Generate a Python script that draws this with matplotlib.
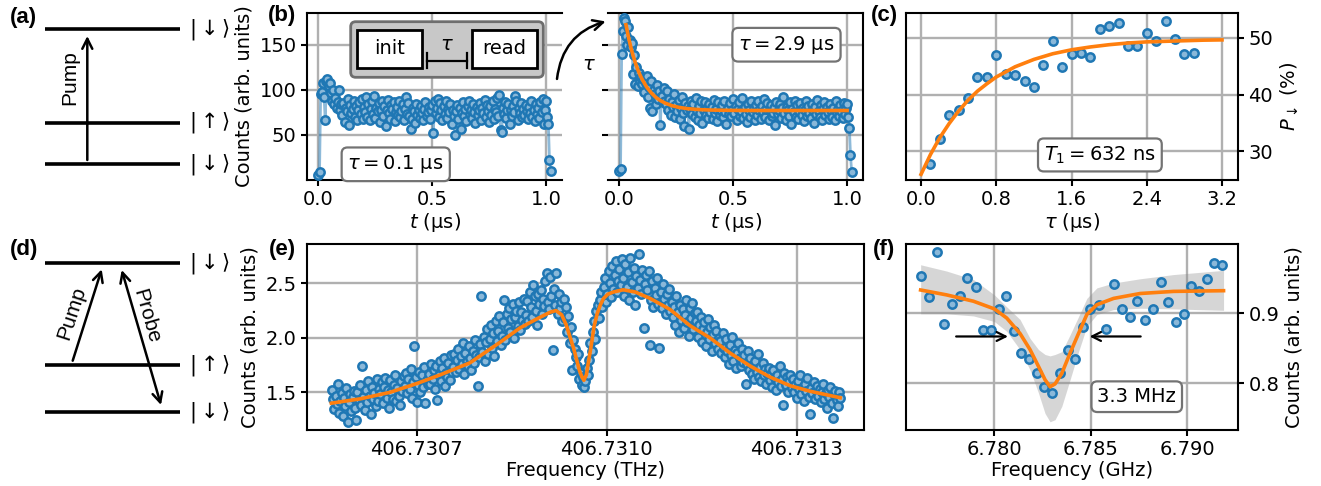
import numpy as np
import matplotlib
matplotlib.use("Agg")
import matplotlib.pyplot as plt
from matplotlib.patches import FancyBboxPatch, FancyArrowPatch, Rectangle
from matplotlib.ticker import FormatStrFormatter

FS = 14
plt.rcParams.update({
    "font.family": ["DejaVu Sans"],
    "font.size": FS,
    "axes.linewidth": 1.5,
    "xtick.major.width": 1.5, "ytick.major.width": 1.5,
    "xtick.major.size": 4, "ytick.major.size": 4,
    "xtick.labelsize": FS, "ytick.labelsize": FS,
    "axes.labelsize": FS,
})

# ---------------- data ----------------
b_step_us = 0.005
b1_counts = [5, 9, 95, 98, 107, 92, 67, 110, 112, 104, 108, 96, 88, 100, 84, 91, 80, 86, 100, 78, 84,
             72, 85, 64, 80, 76, 90, 61, 83, 74, 79, 88, 70, 82, 67, 77, 86, 73, 90, 68, 81,
             75, 92, 70, 84, 66, 79, 88, 73, 93, 69, 80, 76, 85, 64, 78, 87, 71, 82, 60, 77,
             89, 74, 68, 83, 79, 86, 65, 75, 81, 72, 88, 70, 76, 84, 66, 79, 92, 73, 85, 71,
             57, 68, 80, 76, 63, 84, 72, 78, 69, 82, 74, 66, 79, 86, 71, 75, 81, 68, 77, 83,
             52, 88, 74, 80, 90, 70, 85, 77, 66, 82, 73, 87, 69, 79, 75, 84, 62, 78, 71, 50,
             76, 83, 68, 80, 57, 74, 86, 71, 79, 65, 82, 88, 73, 77, 69, 84, 75, 63, 81, 72,
             78, 85, 67, 80, 74, 89, 70, 83, 76, 64, 82, 72, 87, 68, 79, 75, 91, 71, 94, 55,
             53, 80, 73, 86, 69, 77, 84, 62, 78, 71, 82, 75, 93, 88, 67, 80, 74, 85, 70, 79,
             72, 83, 76, 68, 81, 74, 87, 70, 78, 65, 84, 73, 80, 69, 86, 75, 90, 62, 77,
             88, 70, 62, 22, 10]
b2_counts = [10, 12, 140, 165, 180, 176, 160, 150, 170, 155, 147, 152, 117, 138, 106, 125, 104, 118, 110, 114, 106,
             112, 98, 108, 115, 92, 103, 80, 110, 76, 100, 95, 84, 105, 90, 99, 61, 93, 86, 102, 88,
             84, 99, 78, 90, 72, 86, 81, 95, 70, 83, 76, 89, 68, 80, 92, 74, 60, 85, 77, 82,
             57, 79, 88, 73, 84, 70, 91, 76, 66, 82, 74, 87, 63, 78, 86, 72, 80, 69, 84, 75,
             81, 68, 89, 74, 79, 65, 86, 72, 77, 83, 70, 88, 75, 62, 80, 73, 85, 71, 78, 90,
             74, 82, 67, 79, 86, 71, 76, 91, 69, 81, 73, 64, 84, 77, 70, 88, 75, 80, 66, 83,
             72, 87, 78, 68, 82, 75, 90, 70, 79, 85, 66, 77, 83, 71, 74, 80, 61, 86, 73, 78,
             84, 69, 80, 92, 74, 66, 81, 77, 71, 86, 62, 79, 75, 88, 70, 83, 68, 76, 85, 72,
             80, 65, 78, 87, 71, 82, 74, 69, 84, 77, 63, 81, 73, 89, 76, 70, 83, 67, 79, 86,
             72, 81, 75, 68, 84, 77, 70, 80, 66, 87, 74, 79, 71, 83, 76, 69, 85, 73, 80,
             84, 70, 58, 28, 9]
b2_fit_t = [0.029, 0.04, 0.05, 0.06, 0.07, 0.08, 0.09, 0.10, 0.12, 0.14, 0.16, 0.18, 0.20,
            0.23, 0.26, 0.30, 0.35, 0.40, 0.50, 0.60, 0.70, 0.80, 0.90, 1.00]
b2_fit_counts = [172.0, 158.2, 147.4, 138.0, 129.9, 122.8, 116.7, 111.5, 102.9, 96.5, 91.6, 88.0, 85.3,
                 82.4, 80.5, 79.0, 78.0, 77.5, 77.1, 77.0, 77.0, 77.0, 77.0, 77.0]

c_tau = [0.10, 0.20, 0.30, 0.40, 0.50, 0.60, 0.70, 0.80, 0.90, 1.00, 1.10, 1.20, 1.30, 1.40, 1.50,
         1.60, 1.70, 1.80, 1.90, 2.00, 2.10, 2.20, 2.30, 2.40, 2.50, 2.60, 2.70, 2.80, 2.90]
c_p = [27.8, 32.1, 36.3, 37.2, 39.4, 43.1, 43.1, 46.9, 43.7, 43.5, 42.4, 41.4, 45.2, 49.4, 44.8,
       47.1, 47.4, 46.6, 51.5, 52.1, 52.6, 48.5, 48.5, 50.9, 49.5, 53.0, 49.8, 47.1, 47.4]
c_fit_tau = [0.0, 0.1, 0.2, 0.3, 0.4, 0.5, 0.6, 0.7, 0.8, 0.9, 1.0, 1.2, 1.4, 1.6, 1.8, 2.0,
             2.2, 2.4, 2.6, 2.8, 3.0, 3.2]
c_fit_p = [25.9, 29.4, 32.4, 34.9, 37.1, 39.0, 40.6, 41.9, 43.1, 44.0, 44.9, 46.2, 47.2, 47.9,
           48.4, 48.8, 49.1, 49.3, 49.4, 49.5, 49.6, 49.65]

e_freq_start, e_freq_stop = 406.730566, 406.731369
e_counts = [1.52, 1.44, 1.35, 1.47, 1.39, 1.58, 1.31, 1.42, 1.49, 1.28, 1.45, 1.37, 1.54, 1.23, 1.41, 1.48, 1.33, 1.46, 1.51, 1.36,
            1.25, 1.50, 1.43, 1.57, 1.38, 1.74, 1.46, 1.34, 1.52, 1.41, 1.60, 1.47, 1.30, 1.55, 1.44, 1.49, 1.37, 1.62, 1.42, 1.53,
            1.48, 1.59, 1.40, 1.55, 1.63, 1.45, 1.52, 1.36, 1.61, 1.50, 1.44, 1.57, 1.66, 1.42, 1.54, 1.47, 1.38, 1.60, 1.51, 1.65,
            1.56, 1.68, 1.49, 1.62, 1.53, 1.71, 1.45, 1.59, 1.92, 1.64, 1.41, 1.57, 1.69, 1.50, 1.66, 1.55, 1.73, 1.40, 1.61, 1.58,
            1.67, 1.58, 1.76, 1.62, 1.70, 1.53, 1.74, 1.43, 1.66, 1.79, 1.60, 1.72, 1.81, 1.56, 1.68, 1.64, 1.77, 1.61, 1.84, 1.69,
            1.73, 1.85, 1.69, 1.80, 1.90, 1.71, 1.83, 1.76, 1.95, 1.67, 1.86, 1.79, 1.74, 1.92, 1.81, 1.70, 1.88, 1.77, 1.98, 1.84,
            1.56, 1.82, 1.94, 2.38, 1.87, 2.01, 1.79, 1.96, 2.08, 1.85, 1.99, 2.12, 1.91, 2.04, 1.83, 2.15, 1.97, 2.06, 2.20, 1.93,
            2.02, 2.14, 2.35, 1.98, 2.22, 2.09, 2.27, 2.05, 2.17, 2.31, 2.00, 2.19, 2.25, 2.11, 2.33, 2.07, 2.24, 2.16, 2.36, 2.13,
            2.21, 2.34, 2.15, 2.42, 2.28, 2.19, 2.48, 2.38, 2.25, 2.12, 2.40, 2.31, 2.44, 2.22, 2.36, 2.29, 2.52, 2.59, 2.33, 2.26,
            2.56, 2.38, 1.89, 2.45, 2.30, 2.59, 2.22, 2.40, 2.27, 2.33, 2.15, 2.36, 2.18, 2.28, 2.05, 2.20, 1.95, 2.10, 1.70, 1.98,
            1.90, 1.82, 1.74, 1.85, 1.62, 1.68, 1.57, 1.64, 1.55, 1.60, 1.72, 1.66, 1.80, 1.95, 1.88, 2.05, 2.15, 1.99, 2.25, 2.30,
            2.18, 2.35, 2.42, 2.28, 2.47, 2.55, 2.33, 2.40, 2.61, 2.50, 2.37, 2.66, 2.45, 2.58, 2.70, 2.42, 2.52, 2.63, 2.48, 2.72,
            2.55, 2.38, 2.68, 2.47, 2.60, 2.35, 2.73, 2.51, 2.42, 2.64, 2.30, 2.57, 2.46, 2.77, 2.53, 2.40, 2.62, 2.09, 2.49, 2.58,
            2.44, 2.61, 1.93, 2.35, 2.52, 2.28, 2.46, 2.39, 2.55, 2.31, 1.91, 2.42, 2.27, 2.49, 2.36, 2.22, 2.40, 2.30, 2.45, 2.25,
            2.33, 2.19, 2.28, 2.12, 2.38, 2.24, 2.05, 2.30, 2.16, 2.26, 2.09, 2.21, 2.35, 2.14, 2.02, 2.27, 2.18, 2.32, 2.08, 2.23,
            2.15, 2.24, 2.01, 2.12, 2.19, 1.96, 2.08, 2.14, 1.92, 2.05, 2.17, 1.99, 2.10, 1.88, 2.03, 2.12, 1.95, 2.06, 1.90, 2.00,
            1.97, 1.86, 2.04, 1.91, 1.82, 1.99, 1.88, 1.76, 1.93, 1.84, 2.01, 1.79, 1.89, 1.72, 1.86, 1.95, 1.81, 1.74, 1.90, 1.78,
            1.84, 1.58, 1.76, 1.88, 1.70, 1.81, 1.67, 1.75, 1.62, 1.79, 1.69, 1.85, 1.64, 1.73, 1.60, 1.77, 1.66, 1.71, 1.58, 1.68,
            1.72, 1.61, 1.67, 1.55, 1.70, 1.63, 1.52, 1.66, 1.59, 1.74, 1.56, 1.62, 1.38, 1.68, 1.57, 1.64, 1.50, 1.60, 1.66, 1.54,
            1.62, 1.50, 1.57, 1.45, 1.60, 1.53, 1.66, 1.48, 1.55, 1.42, 1.58, 1.51, 1.63, 1.46, 1.30, 1.54, 1.49, 1.59, 1.44, 1.52,
            1.56, 1.47, 1.53, 1.41, 1.50, 1.58, 1.44, 1.49, 1.36, 1.52, 1.46, 1.55, 1.40, 1.26, 1.48, 1.51, 1.43, 1.37, 1.50, 1.45]
e_fit_freq = [406.730565, 406.730611, 406.730658, 406.730700, 406.730737, 406.730784, 406.730832,
              406.730863, 406.730892, 406.730911, 406.730920, 406.730929, 406.730936, 406.730942,
              406.730948, 406.730953, 406.730957, 406.730961, 406.730964, 406.730968, 406.730971,
              406.730974, 406.730977, 406.730980, 406.730985, 406.730990, 406.730995, 406.731002,
              406.731011, 406.731026, 406.731045, 406.731069, 406.731100, 406.731132, 406.731163,
              406.731195, 406.731227, 406.731258, 406.731290, 406.731321, 406.731345, 406.731369]
e_fit_counts = [1.40, 1.44, 1.50, 1.58, 1.66, 1.77, 1.96, 2.09, 2.18, 2.235, 2.25, 2.21, 2.12, 2.01,
                1.90, 1.79, 1.70, 1.64, 1.61, 1.66, 1.77, 1.87, 1.98, 2.10, 2.22, 2.30, 2.36, 2.40,
                2.42, 2.44, 2.42, 2.36, 2.26, 2.11, 2.00, 1.86, 1.74, 1.64, 1.56, 1.51, 1.48, 1.45]

f_freq = [6.77617, 6.77660, 6.77702, 6.77740, 6.77778, 6.77822, 6.77860, 6.77903, 6.77941, 6.77984,
          6.78023, 6.78061, 6.78102, 6.78140, 6.78180, 6.78220, 6.78258, 6.78298, 6.78341, 6.78381,
          6.78421, 6.78461, 6.78499, 6.78542, 6.78582, 6.78622, 6.78662, 6.78702, 6.78740, 6.78783,
          6.78823, 6.78865, 6.78904, 6.78941, 6.78982, 6.79022, 6.79065, 6.79104, 6.79138, 6.79182]
f_counts = [0.953, 0.923, 0.987, 0.885, 0.913, 0.925, 0.950, 0.937, 0.876, 0.876,
            0.906, 0.924, 0.875, 0.843, 0.835, 0.814, 0.794, 0.786, 0.814, 0.848,
            0.835, 0.880, 0.906, 0.911, 0.877, 0.942, 0.906, 0.895, 0.917, 0.890,
            0.906, 0.945, 0.916, 0.887, 0.899, 0.939, 0.932, 0.949, 0.971, 0.968]
f_fit_freq = [6.77617, 6.77752, 6.77891, 6.78000, 6.78064, 6.78133, 6.78185, 6.78229, 6.78263, 6.78289,
              6.78315, 6.78350, 6.78393, 6.78437, 6.78480, 6.78532, 6.78619, 6.78757, 6.78930, 6.79190]
f_fit_counts = [0.933, 0.926, 0.917, 0.906, 0.893, 0.871, 0.848, 0.824, 0.805, 0.795,
                0.799, 0.814, 0.843, 0.871, 0.898, 0.912, 0.921, 0.928, 0.931, 0.932]
f_band_high = [0.969, 0.960, 0.948, 0.926, 0.909, 0.891, 0.864, 0.848, 0.841, 0.839,
               0.841, 0.845, 0.869, 0.895, 0.921, 0.936, 0.943, 0.949, 0.955, 0.961]
f_band_low = [0.899, 0.899, 0.896, 0.888, 0.874, 0.848, 0.819, 0.786, 0.757, 0.745,
              0.748, 0.767, 0.805, 0.845, 0.881, 0.898, 0.905, 0.907, 0.906, 0.904]

# ---------------- figure ----------------
W, H = 1321, 486
fig = plt.figure(figsize=(W / 100, H / 100), dpi=100)


def rect(x0, y0, x1, y1):
    return [x0 / W, 1 - y1 / H, (x1 - x0) / W, (y1 - y0) / H]


MK = dict(marker='o', ls='none', ms=6, mfc='#8ab8d9', mec='#1f77b4', mew=1.8, zorder=3)
FIT = dict(color='#ff7f0e', lw=2.6, zorder=4)
GRID = dict(color='#b0b0b0', lw=1.7)
BOX = dict(boxstyle='round,pad=0.3', fc='white', ec='0.45', lw=1.6)


def base(ax):
    ax.grid(True, **GRID)
    ax.set_axisbelow(True)


axb1 = fig.add_axes(rect(307, 13, 562, 180))
axb2 = fig.add_axes(rect(608, 13, 863, 180))
axc = fig.add_axes(rect(906, 13, 1238, 180))
axe = fig.add_axes(rect(307, 244, 864, 430))
axf = fig.add_axes(rect(906, 244, 1238, 430))

# (b)
for ax, counts in ((axb1, b1_counts), (axb2, b2_counts)):
    base(ax)
    tt = np.arange(len(counts)) * b_step_us
    ax.plot(tt, counts, '-', color='#1f77b4', alpha=0.5, lw=2, zorder=2)
    ax.plot(tt, counts, **MK)
    ax.set_xlim(-0.05, 1.07)
    ax.set_ylim(0, 185)
    ax.set_xticks([0.0, 0.5, 1.0])
    ax.set_yticks([50, 100, 150])
    ax.xaxis.set_major_formatter(FormatStrFormatter('%.1f'))
    ax.set_xlabel('$t$ (μs)', labelpad=1)
axb1.spines['right'].set_visible(False)
axb2.spines['left'].set_visible(False)
axb2.tick_params(labelleft=False)
axb1.set_ylabel('Counts (arb. units)')
axb2.plot(b2_fit_t, b2_fit_counts, **FIT)
axb1.text(0.348, 0.094, r'$\tau = 0.1$ μs', transform=axb1.transAxes,
          ha='center', va='center', bbox=BOX, zorder=6)
axb2.text(0.70, 0.81, r'$\tau = 2.9$ μs', transform=axb2.transAxes,
          ha='center', va='center', bbox=BOX, zorder=6)

# (c)
base(axc)
axc.plot(c_tau, c_p, **MK)
axc.plot(c_fit_tau, c_fit_p, **FIT)
axc.set_xlim(-0.16, 3.37)
axc.set_ylim(24.9, 54.4)
axc.set_xticks([0.0, 0.8, 1.6, 2.4, 3.2])
axc.xaxis.set_major_formatter(FormatStrFormatter('%.1f'))
axc.set_yticks([30, 40, 50])
axc.yaxis.tick_right()
axc.yaxis.set_label_position('right')
axc.set_ylabel(r'$P_\downarrow$ (%)')
axc.set_xlabel(r'$\tau$ (μs)', labelpad=1)
axc.text(0.584, 0.15, r'$T_1 = 632$ ns', transform=axc.transAxes,
         ha='center', va='center', bbox=BOX, zorder=6)

# (e)
base(axe)
e_freq = np.linspace(e_freq_start, e_freq_stop, len(e_counts))
axe.plot(e_freq, e_counts, **MK)
axe.plot(e_fit_freq, e_fit_counts, **FIT)
axe.set_xlim(406.7305266, 406.7314066)
axe.set_ylim(1.154, 2.86)
axe.set_xticks([406.7307, 406.7310, 406.7313])
axe.xaxis.set_major_formatter(FormatStrFormatter('%.4f'))
axe.set_yticks([1.5, 2.0, 2.5])
axe.yaxis.set_major_formatter(FormatStrFormatter('%.1f'))
axe.set_xlabel('Frequency (THz)', labelpad=1)
axe.set_ylabel('Counts (arb. units)')

# (f)
base(axf)
axf.fill_between(f_fit_freq, f_band_low, f_band_high, color='0.55', alpha=0.35, lw=0, zorder=2)
axf.plot(f_freq, f_counts, **MK)
axf.plot(f_fit_freq, f_fit_counts, **FIT)
axf.set_xlim(6.77541, 6.79265)
axf.set_ylim(0.7333, 0.9986)
axf.set_xticks([6.780, 6.785, 6.790])
axf.xaxis.set_major_formatter(FormatStrFormatter('%.3f'))
axf.set_yticks([0.8, 0.9])
axf.yaxis.set_major_formatter(FormatStrFormatter('%.1f'))
axf.yaxis.tick_right()
axf.yaxis.set_label_position('right')
axf.set_ylabel('Counts (arb. units)')
axf.set_xlabel('Frequency (GHz)', labelpad=1)
axf.annotate('', xy=(6.78085, 0.8667), xytext=(6.77787, 0.8667),
             arrowprops=dict(arrowstyle='->', lw=1.6, color='k', mutation_scale=16), zorder=6)
axf.annotate('', xy=(6.78480, 0.8667), xytext=(6.78774, 0.8667),
             arrowprops=dict(arrowstyle='->', lw=1.6, color='k', mutation_scale=16), zorder=6)
axf.text(0.695, 0.179, '3.3 MHz', transform=axf.transAxes,
         ha='center', va='center', bbox=BOX, zorder=6)

# ---------------- overlay: schematics & labels ----------------
ov = fig.add_axes([0, 0, 1, 1])
ov.set_xlim(0, W)
ov.set_ylim(H, 0)
ov.axis('off')

SANS = 'Liberation Sans'
for lab, (x, y) in {'(a)': (23, 18), '(b)': (282, 16), '(c)': (884, 16),
                    '(d)': (24, 249), '(e)': (282, 249), '(f)': (884, 249)}.items():
    ov.text(x, y, lab, fontsize=16, fontweight='bold', family=SANS, ha='center', va='center')

down = r'$|\downarrow\rangle$'
up = r'$|\uparrow\rangle$'
for y, lab in ((29.3, down), (122.7, up), (164.3, down), (263.3, down), (365.3, up), (412, down)):
    ov.plot([45, 180], [y, y], color='k', lw=2.6, solid_capstyle='butt')
    ov.text(189, y, lab, fontsize=15, ha='left', va='center')

AR = dict(arrowstyle='->', lw=1.8, color='k', mutation_scale=18, shrinkA=0, shrinkB=0)
ov.annotate('', xy=(87.3, 36), xytext=(87.3, 160), arrowprops=AR)
ov.text(70, 78, 'Pump', rotation=90, fontsize=15, family=SANS, ha='center', va='center')

ov.annotate('', xy=(101.7, 269.3), xytext=(72.7, 360.7), arrowprops=AR)
ov.text(71.7, 313.3, 'Pump', rotation=72, fontsize=15, family=SANS, ha='center', va='center')
AR2 = dict(AR)
AR2['arrowstyle'] = '<->'
ov.annotate('', xy=(161, 405), xytext=(121.7, 270), arrowprops=AR2)
ov.text(146.2, 316.7, 'Probe', rotation=-74, fontsize=15, family=SANS, ha='center', va='center')

# pulse-sequence inset in (b)
ov.add_patch(FancyBboxPatch((350.7, 21.7), 192.6, 55.6, boxstyle='round,pad=0,rounding_size=5',
                            fc='#c8c8c8', ec='#6e6e6e', lw=2))
ov.add_patch(Rectangle((356.7, 30), 65, 38.3, fc='white', ec='k', lw=2))
ov.add_patch(Rectangle((471.7, 30), 65, 38.3, fc='white', ec='k', lw=2))
ov.text(389.2, 49, 'init', fontsize=FS, ha='center', va='center')
ov.text(504.2, 49, 'read', fontsize=FS, ha='center', va='center')
ov.plot([427, 467], [60.7, 60.7], color='k', lw=1.6)
ov.plot([427, 427], [53.5, 68.5], color='k', lw=1.6)
ov.plot([467, 467], [53.5, 68.5], color='k', lw=1.6)
ov.text(447, 45, r'$\tau$', fontsize=FS, ha='center', va='center')

# curved tau arrow between (b) panels
ov.add_patch(FancyArrowPatch((556.7, 81.7), (608.3, 20.7), connectionstyle='arc3,rad=-0.35',
                             arrowstyle='->', mutation_scale=18, lw=1.8, color='k'))
ov.text(589.3, 65, r'$\tau$', fontsize=FS, ha='center', va='center')

fig.savefig('out.png', dpi=100)
